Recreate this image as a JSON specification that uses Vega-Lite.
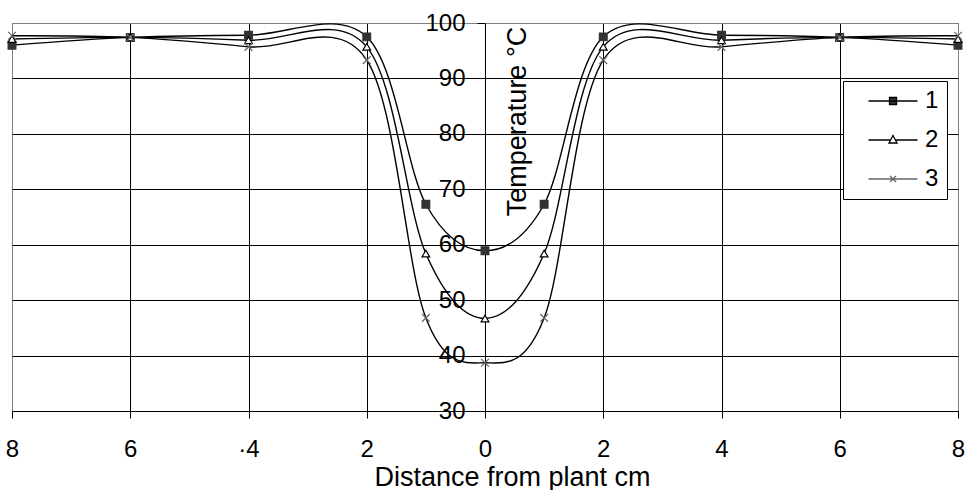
{
  "$schema": "https://vega.github.io/schema/vega-lite/v6.json",
  "width": 946,
  "height": 388,
  "autosize": {"type": "none"},
  "padding": {"left": 12, "top": 23, "right": 8, "bottom": 79},
  "background": "white",
  "config": {
    "font": "Liberation Sans",
    "view": {"stroke": "#808080", "strokeWidth": 1}
  },
  "data": {
    "values": [
      {"x": -8, "y": 96.0, "s": "1"}, {"x": -6, "y": 97.4, "s": "1"}, {"x": -4, "y": 97.8, "s": "1"}, {"x": -2, "y": 97.5, "s": "1"}, {"x": -1, "y": 67.3, "s": "1"}, {"x": 0, "y": 58.9, "s": "1"}, {"x": 1, "y": 67.3, "s": "1"}, {"x": 2, "y": 97.5, "s": "1"}, {"x": 4, "y": 97.8, "s": "1"}, {"x": 6, "y": 97.4, "s": "1"}, {"x": 8, "y": 96.0, "s": "1"},
      {"x": -8, "y": 97.1, "s": "2"}, {"x": -6, "y": 97.4, "s": "2"}, {"x": -4, "y": 96.9, "s": "2"}, {"x": -2, "y": 95.7, "s": "2"}, {"x": -1, "y": 58.4, "s": "2"}, {"x": 0, "y": 46.7, "s": "2"}, {"x": 1, "y": 58.4, "s": "2"}, {"x": 2, "y": 95.7, "s": "2"}, {"x": 4, "y": 96.9, "s": "2"}, {"x": 6, "y": 97.4, "s": "2"}, {"x": 8, "y": 97.1, "s": "2"},
      {"x": -8, "y": 97.7, "s": "3"}, {"x": -6, "y": 97.4, "s": "3"}, {"x": -4, "y": 95.7, "s": "3"}, {"x": -2, "y": 93.3, "s": "3"}, {"x": -1, "y": 46.8, "s": "3"}, {"x": 0, "y": 38.7, "s": "3"}, {"x": 1, "y": 46.8, "s": "3"}, {"x": 2, "y": 93.3, "s": "3"}, {"x": 4, "y": 95.7, "s": "3"}, {"x": 6, "y": 97.4, "s": "3"}, {"x": 8, "y": 97.7, "s": "3"}
    ]
  },
  "encoding": {
    "x": {
      "field": "x",
      "type": "quantitative",
      "scale": {"domain": [-8, 8], "nice": false, "zero": false},
      "axis": {
        "values": [-8, -6, -4, -2, 0, 2, 4, 6, 8],
        "grid": true,
        "gridColor": {"condition": {"test": "abs(datum.value) == 8", "value": "#808080"}, "value": "black"},
        "gridWidth": 1,
        "tickColor": "black",
        "tickSize": 7,
        "tickWidth": 1,
        "domainColor": "black",
        "domainWidth": 1,
        "labelFontSize": 24,
        "labelColor": "black",
        "labelFlush": false,
        "labelOverlap": false,
        "labelExpr": "datum.value == -4 ? '·4' : (datum.value < 0 ? '\u00a0' : '') + abs(datum.value)",
        "labelBaseline": "alphabetic",
        "labelPadding": 38,
        "title": "Distance from plant cm",
        "titleFontSize": 27,
        "titleFontWeight": "normal",
        "titleColor": "black",
        "titleX": 500,
        "titleY": 74,
        "titleAlign": "center",
        "titleBaseline": "alphabetic"
      }
    },
    "y": {
      "field": "y",
      "type": "quantitative",
      "scale": {"domain": [30, 100], "nice": false, "zero": false},
      "axis": {
        "values": [30, 40, 50, 60, 70, 80, 90, 100],
        "offset": -473,
        "grid": true,
        "gridColor": {"condition": {"test": "datum.value == 100", "value": "#808080"}, "value": "black"},
        "gridWidth": 1,
        "tickColor": "black",
        "tickSize": 8,
        "tickWidth": 1,
        "domainColor": "black",
        "domainWidth": 1,
        "labelFontSize": 24,
        "labelColor": "black",
        "labelPadding": 12,
        "labelFlush": false,
        "labelOverlap": false,
        "title": "Temperature °C",
        "titleFontSize": 27,
        "titleFontWeight": "normal",
        "titleColor": "black",
        "titleX": 40,
        "titleY": 98,
        "titleAngle": -90,
        "titleAlign": "center",
        "titleBaseline": "alphabetic"
      }
    }
  },
  "resolve": {"scale": {"shape": "independent", "fill": "independent", "stroke": "independent"}},
  "layer": [
    {
      "mark": {"type": "line", "interpolate": "cardinal", "color": "black", "strokeWidth": 1.4},
      "encoding": {"detail": {"field": "s", "type": "nominal"}}
    },
    {
      "mark": {"type": "point", "size": 60, "strokeWidth": 1.2, "opacity": 1},
      "encoding": {
        "shape": {
          "field": "s",
          "type": "nominal",
          "scale": {"domain": ["1", "2", "3"], "range": ["square", "triangle-up", "M-1,-1L1,1M-1,1L1,-1"]},
          "legend": null
        },
        "fill": {
          "field": "s",
          "type": "nominal",
          "scale": {"domain": ["1", "2", "3"], "range": ["#333333", "#ffffff", "transparent"]},
          "legend": null
        },
        "stroke": {
          "field": "s",
          "type": "nominal",
          "scale": {"domain": ["1", "2", "3"], "range": ["#333333", "#000000", "#666666"]},
          "legend": null
        }
      }
    },
    {
      "transform": [{"filter": "false"}],
      "mark": {"type": "point", "strokeWidth": 1.3, "opacity": 1},
      "encoding": {
        "shape": {
          "field": "s",
          "type": "nominal",
          "scale": {"domain": ["1", "2", "3"], "range": [
            "M-2.45,0H2.45M-0.35,-0.35H0.35V0.35H-0.35Z",
            "M-2.45,0H-0.24M0.24,0H2.45M0,-0.45L0.4,0.3H-0.4Z",
            "M-2.45,0H2.45M-0.3,-0.3L0.3,0.3M-0.3,0.3L0.3,-0.3"
          ]},
          "legend": {
            "orient": "none",
            "legendX": 831,
            "legendY": 58,
            "title": null,
            "padding": 8,
            "strokeColor": "black",
            "fillColor": "white",
            "symbolSize": 400,
            "symbolOffset": 30,
            "labelOffset": 20,
            "labelFontSize": 24,
            "labelColor": "black",
            "rowPadding": 15,
            "symbolStrokeWidth": 1.3
          }
        },
        "fill": {
          "field": "s",
          "type": "nominal",
          "scale": {"domain": ["1", "2", "3"], "range": ["#333333", "#ffffff", "transparent"]},
          "legend": {
            "orient": "none",
            "legendX": 831,
            "legendY": 58,
            "title": null,
            "padding": 8,
            "strokeColor": "black",
            "fillColor": "white",
            "symbolSize": 400,
            "symbolOffset": 30,
            "labelOffset": 20,
            "labelFontSize": 24,
            "labelColor": "black",
            "rowPadding": 15,
            "symbolStrokeWidth": 1.3
          }
        },
        "stroke": {
          "field": "s",
          "type": "nominal",
          "scale": {"domain": ["1", "2", "3"], "range": ["#000000", "#000000", "#666666"]},
          "legend": {
            "orient": "none",
            "legendX": 831,
            "legendY": 58,
            "title": null,
            "padding": 8,
            "strokeColor": "black",
            "fillColor": "white",
            "symbolSize": 400,
            "symbolOffset": 30,
            "labelOffset": 20,
            "labelFontSize": 24,
            "labelColor": "black",
            "rowPadding": 15,
            "symbolStrokeWidth": 1.3
          }
        }
      }
    }
  ]
}
